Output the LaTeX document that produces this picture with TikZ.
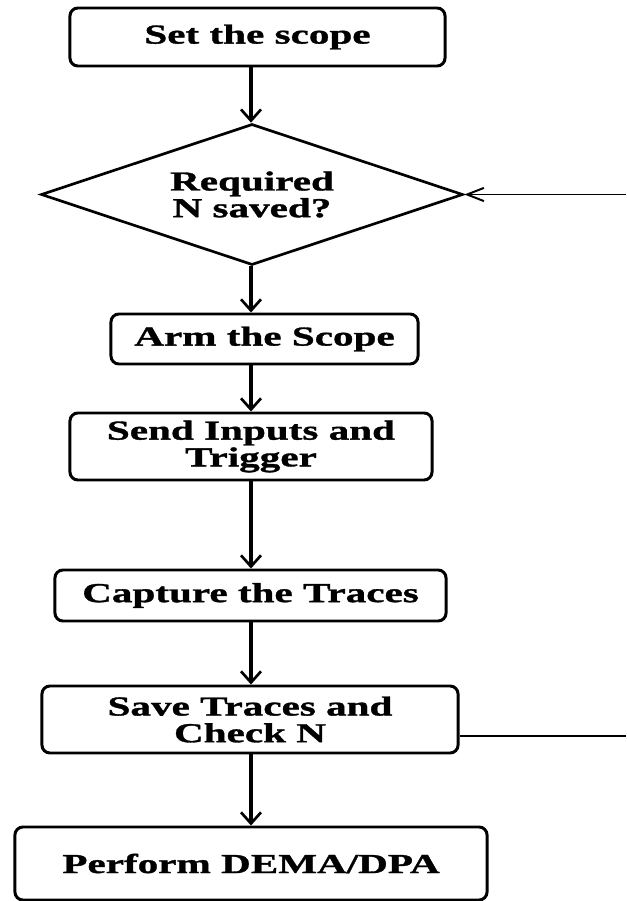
\documentclass[tikz,border=0pt]{standalone}
\usepackage{fontspec}
\setmainfont{Liberation Serif}[FakeStretch=1.5, FakeBold=1.2]
\usetikzlibrary{arrows.meta, shapes.geometric, calc}

\newcommand{\flowfont}{\bfseries\fontsize{19.5}{19}\selectfont}

\begin{document}
\begin{tikzpicture}[x = 0.025cm, y = -0.025cm,
  block/.style = {draw, line width = 2.1pt, rounded corners = 0.2cm, align = center,
    inner sep = 0pt, font = \flowfont},
  decision/.style = {draw, diamond, line width = 1.9pt, align = center, aspect = 3,
    inner sep = 0pt, minimum width = 10.55cm, minimum height = 3.525cm, font = \flowfont},
  flow/.style = {line width = 2.2pt, -{Straight Barb[length = 0.28cm, width = 0.5cm, line width = 1.9pt]}},
  back/.style = {line width = 1.4pt}]

\useasboundingbox (0,0) rectangle (626,901);

% steps
\node[block, minimum width = 9.375cm, minimum height = 1.45cm] (set) at (257.5,37) {Set the scope};
\node[decision] (req) at (252,194.5) {Required\\N saved?};
\node[block, minimum width = 7.675cm, minimum height = 1.25cm] (arm) at (264.5,339) {Arm the Scope};
\node[block, minimum width = 9.05cm, minimum height = 1.675cm] (send) at (251,446.5) {Send Inputs and\\Trigger};
\node[block, minimum width = 9.775cm, minimum height = 1.275cm] (capture) at (250.5,595.5) {Capture the Traces};
\node[block, minimum width = 10.4cm, minimum height = 1.675cm] (save) at (250,719.5) {Save Traces and\\Check N};
\node[block, minimum width = 11.8cm, minimum height = 1.825cm] (perform) at (251,863.5) {Perform DEMA/DPA};

% main line
\coordinate (spine) at (251,0);
\draw[flow] (set.south -| spine) -- (req.north -| spine);
\draw[flow] (req.south -| spine) -- (arm.north -| spine);
\draw[flow] (arm.south -| spine) -- (send.north -| spine);
\draw[flow] (send.south -| spine) -- (capture.north -| spine);
\draw[flow] (capture.south -| spine) -- (save.north -| spine);
\draw[flow] (save.south -| spine) -- (perform.north -| spine);

% loop back
\coordinate (loopout) at (626,736);
\coordinate (loopin) at (626,194.5);
\draw[back] (save.east |- loopout) -- (loopout);
\draw[back, -{Straight Barb[length = 0.42cm, width = 0.33cm, line width = 1.4pt]}] (loopin) -- (req.east);

\end{tikzpicture}
\end{document}
